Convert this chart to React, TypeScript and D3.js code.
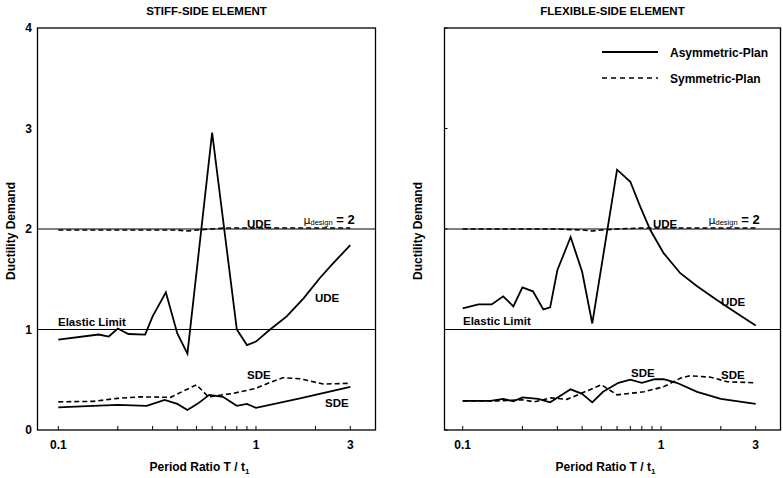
import React from 'react';
import * as d3 from 'd3';

// period ratio T/t1 and ductility demand
const stiffAsymUDE_T = [0.1, 0.16, 0.18, 0.2, 0.226, 0.275, 0.3, 0.35, 0.4, 0.45, 0.6, 0.8, 0.9, 1, 1.17, 1.43, 1.74, 2.1, 2.46, 3];
const stiffAsymUDE_V = [0.9, 0.95, 0.93, 1.01, 0.955, 0.95, 1.13, 1.37, 0.96, 0.76, 2.96, 1.0, 0.845, 0.88, 0.995, 1.13, 1.31, 1.51, 1.66, 1.84];
const stiffSymUDE_T = [0.1, 0.2, 0.3, 0.4, 0.45, 0.5, 0.6, 0.7, 1, 2, 3];
const stiffSymUDE_V = [1.99, 1.99, 1.99, 1.99, 1.98, 1.99, 2.0, 2.01, 2.01, 2.01, 2.01];
const stiffAsymSDE_T = [0.1, 0.15, 0.2, 0.28, 0.345, 0.4, 0.45, 0.51, 0.58, 0.68, 0.8, 0.9, 1, 1.67, 3];
const stiffAsymSDE_V = [0.225, 0.24, 0.25, 0.24, 0.3, 0.26, 0.2, 0.265, 0.35, 0.33, 0.24, 0.26, 0.22, 0.315, 0.43];
const stiffSymSDE_T = [0.1, 0.15, 0.2, 0.26, 0.37, 0.5, 0.574, 0.77, 1, 1.2, 1.37, 1.67, 2.19, 3];
const stiffSymSDE_V = [0.28, 0.285, 0.315, 0.33, 0.325, 0.45, 0.33, 0.365, 0.415, 0.48, 0.52, 0.51, 0.457, 0.465];

const flexAsymUDE_T = [0.1, 0.12, 0.14, 0.16, 0.18, 0.2, 0.226, 0.255, 0.276, 0.3, 0.35, 0.4, 0.45, 0.6, 0.7, 0.786, 0.883, 1.03, 1.25, 1.52, 1.92, 2.42, 3];
const flexAsymUDE_V = [1.21, 1.25, 1.25, 1.33, 1.23, 1.42, 1.38, 1.2, 1.22, 1.59, 1.92, 1.575, 1.06, 2.59, 2.47, 2.22, 1.99, 1.76, 1.56, 1.43, 1.29, 1.16, 1.04];
const flexSymUDE_T = [0.1, 0.2, 0.3, 0.4, 0.45, 0.5, 0.6, 0.8, 1, 2, 3];
const flexSymUDE_V = [2.0, 2.0, 2.0, 1.99, 1.98, 1.99, 2.0, 2.01, 2.01, 2.01, 2.01];
const flexAsymSDE_T = [0.1, 0.138, 0.16, 0.18, 0.2, 0.24, 0.276, 0.35, 0.4, 0.45, 0.51, 0.61, 0.7, 0.8, 0.93, 1.03, 1.2, 1.52, 2, 3];
const flexAsymSDE_V = [0.29, 0.29, 0.31, 0.285, 0.325, 0.31, 0.275, 0.405, 0.36, 0.275, 0.38, 0.47, 0.5, 0.47, 0.505, 0.505, 0.47, 0.38, 0.31, 0.26];
const flexSymSDE_T = [0.1, 0.15, 0.2, 0.23, 0.28, 0.336, 0.5, 0.6, 0.82, 1.03, 1.25, 1.4, 1.78, 2.16, 3];
const flexSymSDE_V = [0.29, 0.29, 0.3, 0.28, 0.32, 0.305, 0.45, 0.35, 0.38, 0.43, 0.515, 0.54, 0.525, 0.48, 0.47];

const yTicks = [0, 1, 2, 3, 4];
const xTickLabels = [0.1, 1, 3];
const xMinorTicks = [0.1, 0.2, 0.3, 0.4, 0.5, 0.6, 0.7, 0.8, 0.9, 1, 2, 3];

const FONT = '"Liberation Sans", Arial, sans-serif';

type Pt = [number, number];
const zip = (t: number[], v: number[]): Pt[] => t.map((d, i) => [d, v[i]]);

function Panel(props: any) {
  const {
    title, left, right, x01, x3, showYLabels, asymUDE, symUDE, asymSDE, symSDE, labels, legend
  } = props;
  const top = 28, bottom = 430;
  const x = d3.scaleLog().domain([0.1, 3]).range([x01, x3]);
  const y = d3.scaleLinear().domain([0, 4]).range([bottom, top]);
  const line = d3.line<Pt>().x((d) => x(d[0])).y((d) => y(d[1]));
  const cx = (left + right) / 2;

  return (
    <g>
      <text x={cx} y={15} textAnchor="middle" fontSize={11.5} fontWeight="bold">{title}</text>
      <rect x={left} y={top} width={right - left} height={bottom - top} fill="none" stroke="#000" strokeWidth={1.3} />
      {/* reference lines */}
      <line x1={left} x2={right} y1={y(2)} y2={y(2)} stroke="#000" strokeWidth={1} />
      <line x1={left} x2={right} y1={y(1)} y2={y(1)} stroke="#000" strokeWidth={1} />
      {/* ticks */}
      {xMinorTicks.map((t) => (
        <line key={t} x1={x(t)} x2={x(t)} y1={bottom} y2={bottom - 4} stroke="#000" strokeWidth={1} />
      ))}
      {xTickLabels.map((t) => (
        <text key={t} x={x(t)} y={449} textAnchor="middle" fontSize={12} fontWeight="bold">{t}</text>
      ))}
      {showYLabels
        ? yTicks.map((t) => (
            <text key={t} x={left - 9} y={y(t) + 4} textAnchor="middle" fontSize={12} fontWeight="bold">{t}</text>
          ))
        : yTicks.map((t) => (
            <line key={t} x1={left} x2={left + 3} y1={y(t)} y2={y(t)} stroke="#000" strokeWidth={1} />
          ))}
      <text x={cx - 7} y={471} textAnchor="middle" fontSize={12} fontWeight="bold">
        Period Ratio T / t<tspan fontSize={8} dy={3}>1</tspan>
      </text>
      <text transform={`translate(${left - 23},231) rotate(-90)`} textAnchor="middle" fontSize={12} fontWeight="bold">
        Ductility Demand
      </text>
      {/* curves */}
      <path d={line(symUDE) || ''} fill="none" stroke="#000" strokeWidth={1.6} strokeDasharray="5,3" />
      <path d={line(symSDE) || ''} fill="none" stroke="#000" strokeWidth={1.6} strokeDasharray="5,3" />
      <path d={line(asymUDE) || ''} fill="none" stroke="#000" strokeWidth={1.8} />
      <path d={line(asymSDE) || ''} fill="none" stroke="#000" strokeWidth={1.8} />
      {/* annotations */}
      {labels.map((l: any, i: number) => (
        <text key={i} x={l.x} y={l.y} fontSize={11.5} fontWeight="bold" textAnchor={l.anchor || 'start'}>{l.text}</text>
      ))}
      <text x={right - 72} y={y(2) - 5} fontSize={11.5} fontFamily="'DejaVu Sans', sans-serif">
        <tspan fontSize={11}>μ</tspan>
        <tspan fontSize={7.5} dy={1} fontFamily={FONT}>design</tspan>
        <tspan fontSize={13} fontWeight="bold" dy={-1} fontFamily={FONT}> = 2</tspan>
      </text>
      {legend && (
        <g>
          <line x1={602} x2={658} y1={52} y2={52} stroke="#000" strokeWidth={1.8} />
          <text x={670} y={57} fontSize={12} fontWeight="bold">Asymmetric-Plan</text>
          <line x1={602} x2={658} y1={78} y2={78} stroke="#000" strokeWidth={1.6} strokeDasharray="5,4" />
          <text x={670} y={83} fontSize={12} fontWeight="bold">Symmetric-Plan</text>
        </g>
      )}
    </g>
  );
}

export default function App() {
  return (
    <svg
      width={783}
      height={478}
      style={{ position: 'absolute', left: 0, top: 0, fontFamily: FONT, background: '#fff' }}
    >
      <Panel
        title="STIFF-SIDE ELEMENT"
        left={37.5}
        right={375.5}
        x01={58.3}
        x3={350.3}
        showYLabels={true}
        asymUDE={zip(stiffAsymUDE_T, stiffAsymUDE_V)}
        symUDE={zip(stiffSymUDE_T, stiffSymUDE_V)}
        asymSDE={zip(stiffAsymSDE_T, stiffAsymSDE_V)}
        symSDE={zip(stiffSymSDE_T, stiffSymSDE_V)}
        labels={[
          { x: 247, y: 228, text: 'UDE' },
          { x: 315, y: 302, text: 'UDE' },
          { x: 58, y: 326, text: 'Elastic Limit' },
          { x: 247, y: 379, text: 'SDE' },
          { x: 325, y: 407, text: 'SDE' }
        ]}
      />
      <Panel
        title="FLEXIBLE-SIDE ELEMENT"
        left={444.5}
        right={780.5}
        x01={462.7}
        x3={755.7}
        showYLabels={false}
        asymUDE={zip(flexAsymUDE_T, flexAsymUDE_V)}
        symUDE={zip(flexSymUDE_T, flexSymUDE_V)}
        asymSDE={zip(flexAsymSDE_T, flexAsymSDE_V)}
        symSDE={zip(flexSymSDE_T, flexSymSDE_V)}
        labels={[
          { x: 653, y: 228, text: 'UDE' },
          { x: 721, y: 306, text: 'UDE' },
          { x: 463, y: 325, text: 'Elastic Limit' },
          { x: 631, y: 377, text: 'SDE' },
          { x: 721, y: 379, text: 'SDE' }
        ]}
        legend={true}
      />
    </svg>
  );
}
